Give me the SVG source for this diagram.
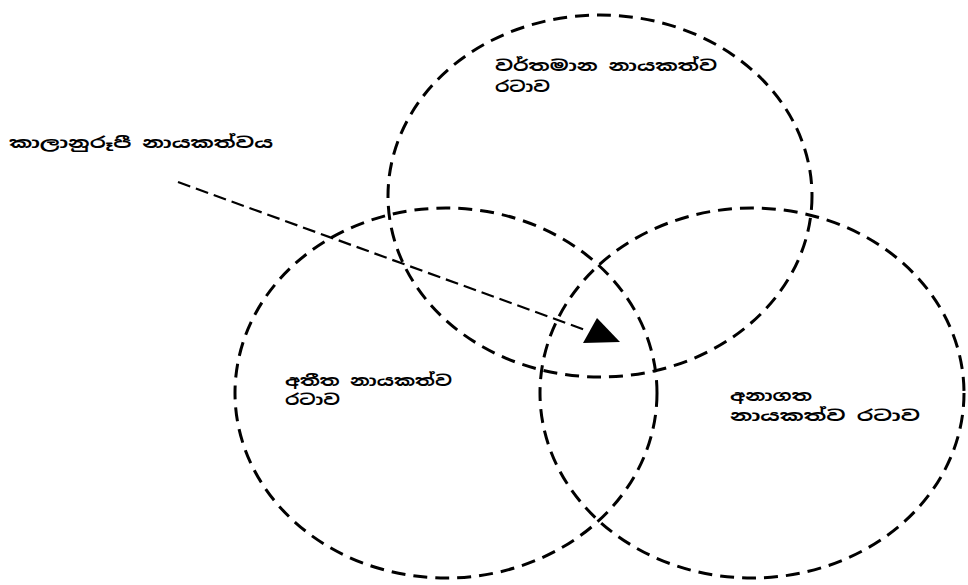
<svg xmlns="http://www.w3.org/2000/svg" width="968" height="585" viewBox="0 0 968 585">
<style>
.c{fill:none;stroke:#000;stroke-width:3;stroke-dasharray:14 8}
.t{font-family:"Noto Sans Sinhala","Noto Serif Sinhala","Noto Sans",sans-serif;font-size:15px;font-weight:bold;fill:#000}
</style>
<rect width="968" height="585" fill="#fff"/>
<g id="present">
<ellipse class="c" cx="600" cy="196" rx="212" ry="181"/>
<text class="t" x="495" y="71" textLength="222" lengthAdjust="spacingAndGlyphs">වර්තමාන නායකත්ව</text>
<text class="t" x="495" y="92" textLength="55" lengthAdjust="spacingAndGlyphs">රටාව</text>
</g>
<g id="past">
<ellipse class="c" cx="446" cy="393" rx="211" ry="185"/>
<text class="t" x="285" y="386" textLength="167" lengthAdjust="spacingAndGlyphs">අතීත නායකත්ව</text>
<text class="t" x="285" y="405" textLength="55" lengthAdjust="spacingAndGlyphs">රටාව</text>
</g>
<g id="future">
<ellipse class="c" cx="752" cy="393" rx="212" ry="185"/>
<text class="t" x="730" y="401" textLength="82" lengthAdjust="spacingAndGlyphs">අනාගත</text>
<text class="t" x="730" y="421" textLength="190" lengthAdjust="spacingAndGlyphs">නායකත්ව රටාව</text>
</g>
<g id="label">
<text class="t" x="9" y="148" textLength="264" lengthAdjust="spacingAndGlyphs">කාලානුරූපී නායකත්වය</text>
</g>
<g id="connectors">
<line x1="178" y1="182" x2="588" y2="331" stroke="#000" stroke-width="2.2" stroke-dasharray="13 6"/>
<path d="M597,318 L620,342 L583,343 Z" fill="#000"/>
</g>
</svg>
